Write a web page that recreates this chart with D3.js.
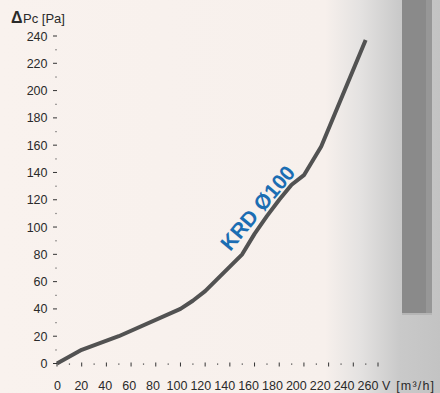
<!DOCTYPE html>
<html>
<head>
<meta charset="utf-8">
<script src="https://cdn.jsdelivr.net/npm/d3@7"></script>
<style>
  html, body { margin: 0; padding: 0; background: #f9f2ee; }
  svg { display: block; }
  text { font-family: "Liberation Sans", Arial, sans-serif; }
</style>
</head>
<body>
<svg id="chart" width="440" height="393"></svg>
<script>
// Data
const flow = [0, 20, 50, 100, 110, 120, 130, 140, 150, 160, 170, 180, 190, 200, 214, 250];
const pressure = [0, 10, 20, 40, 46, 53, 62, 71, 80, 95, 108, 120, 131, 138, 159, 237];
const xTickValues = [0, 20, 40, 60, 80, 100, 120, 140, 160, 180, 200, 220, 240, 260];
const yTickValues = [0, 20, 40, 60, 80, 100, 120, 140, 160, 180, 200, 220, 240];
const seriesLabel = "KRD Ø100";
const xTitle = "V [m³/h]";
const yTitle = "Pc [Pa]";

const W = 440, H = 393;
const svg = d3.select("#chart");

// Background
const defs = svg.append("defs");
const grad = defs.append("linearGradient").attr("id", "bg").attr("x1", 0).attr("x2", 1).attr("y1", 0).attr("y2", 0);
grad.append("stop").attr("offset", 0).attr("stop-color", "#f9f2ee");
grad.append("stop").attr("offset", 325 / W).attr("stop-color", "#f7f0ec");
grad.append("stop").attr("offset", 360 / W).attr("stop-color", "#e4e2e1");
grad.append("stop").attr("offset", 400 / W).attr("stop-color", "#c9c9c9");
grad.append("stop").attr("offset", 1).attr("stop-color", "#c3c3c3");
svg.append("rect").attr("width", W).attr("height", H).attr("fill", "url(#bg)");

// Dark bar on right
svg.append("rect").attr("x", 402).attr("y", 0).attr("width", 24).attr("height", 313).attr("fill", "#8a8a8a");
svg.append("rect").attr("x", 426).attr("y", 0).attr("width", 6).attr("height", 313).attr("fill", "#979797");
svg.append("rect").attr("x", 402).attr("y", 313).attr("width", 30).attr("height", 2).attr("fill", "#b5b5b5");

// Scales
const x = d3.scaleLinear().domain([0, 260]).range([57, 378]);
const xLabel = d3.scaleLinear().domain([0, 260]).range([57.5, 368]);
const y = d3.scaleLinear().domain([0, 240]).range([363.5, 36]);

// Y axis: labels and ticks
const yAxisG = svg.append("g");
yAxisG.selectAll("text.yl").data(yTickValues).enter().append("text")
  .attr("x", 47.5).attr("y", d => y(d) + 4.5)
  .attr("text-anchor", "end").attr("font-size", 12.5).attr("fill", "#2a2a2a")
  .text(d => d);
yAxisG.selectAll("line.ymaj").data(yTickValues).enter().append("line")
  .attr("x1", 53).attr("x2", 57).attr("y1", d => y(d)).attr("y2", d => y(d))
  .attr("stroke", "#333").attr("stroke-width", 1);
const yMinor = d3.range(10, 240, 20);
yAxisG.selectAll("rect.ymin").data(yMinor).enter().append("rect")
  .attr("x", 55.5).attr("y", d => y(d) - 0.5).attr("width", 1).attr("height", 1.2)
  .attr("fill", "#444");

// X axis ticks
const xAxisG = svg.append("g");
const xMajor = d3.range(0, 261, 20);
const xMinor = d3.range(10, 260, 20);
xAxisG.selectAll("line.xmaj").data(xMajor).enter().append("line")
  .attr("x1", d => x(d)).attr("x2", d => x(d)).attr("y1", 362.5).attr("y2", 366.5)
  .attr("stroke", "#333").attr("stroke-width", 1);
xAxisG.selectAll("rect.xmin").data(xMinor).enter().append("rect")
  .attr("x", d => x(d) - 0.5).attr("y", 363.5).attr("width", 1.2).attr("height", 1.2)
  .attr("fill", "#444");
xAxisG.selectAll("text.xl").data(xTickValues).enter().append("text")
  .attr("x", d => xLabel(d)).attr("y", 390)
  .attr("text-anchor", "middle").attr("font-size", 12.5).attr("fill", "#2a2a2a")
  .text(d => d);
svg.append("text").attr("x", 382).attr("y", 390).attr("font-size", 12.5).attr("fill", "#2a2a2a")
  .attr("textLength", 52).attr("lengthAdjust", "spacing").text(xTitle);

// Y title
const yt = svg.append("text").attr("x", 11).attr("y", 23).attr("fill", "#2a2a2a");
yt.append("tspan").attr("font-size", 16).attr("font-weight", "bold").text("Δ");
yt.append("tspan").attr("font-size", 13).attr("dx", 0.5).text(yTitle);

// Line
const pts = flow.map((f, i) => [f, pressure[i]]);
const line = d3.line().x(d => x(d[0])).y(d => y(d[1]));
svg.append("path").datum(pts).attr("d", line)
  .attr("fill", "none").attr("stroke", "#525252").attr("stroke-width", 4)
  .attr("stroke-linejoin", "round").attr("stroke-linecap", "butt");

// Series label
svg.append("text")
  .attr("transform", "translate(259,209) rotate(-50)")
  .attr("text-anchor", "middle").attr("dominant-baseline", "middle")
  .attr("font-size", 21).attr("font-weight", "bold").attr("fill", "#1b6db3")
  .text(seriesLabel);
</script>
</body>
</html>
